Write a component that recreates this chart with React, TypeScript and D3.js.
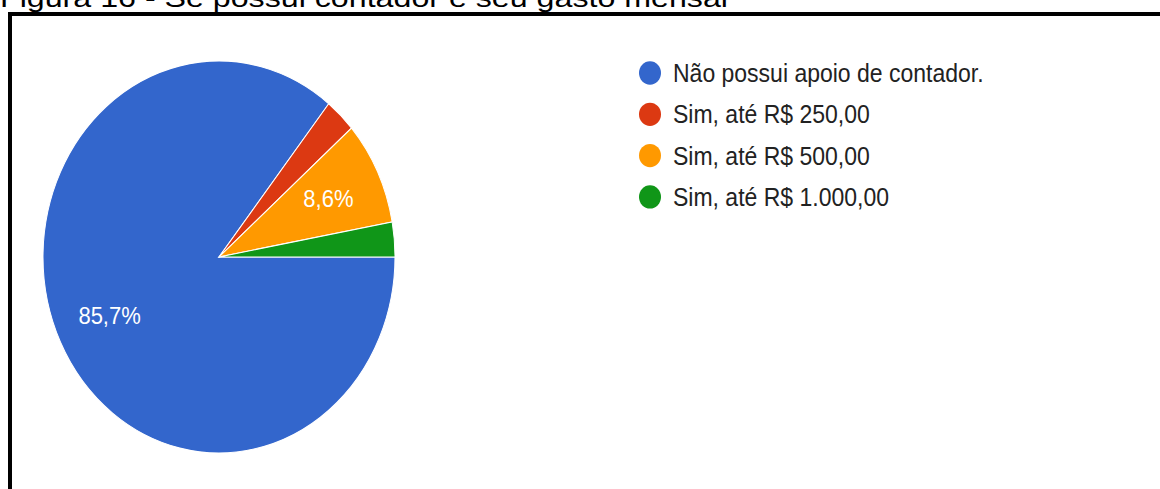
import React from "react";
import * as d3 from "d3";

const categories = [
  "Não possui apoio de contador.",
  "Sim, até R$ 250,00",
  "Sim, até R$ 500,00",
  "Sim, até R$ 1.000,00",
];
const values = [30, 1, 3, 1];
const colors = ["#3366cc", "#dc3912", "#ff9900", "#109618"];
const title = "Figura 16 - Se possui contador e seu gasto mensal";

export default function App() {
  const W = 1160, H = 489;
  const cx = 219, cy = 257, rx = 176, ry = 196;
  const sy = ry / rx;
  const total = d3.sum(values);
  const pie = d3.pie<number>().sort(null).value((d) => d)
    .startAngle(Math.PI / 2).endAngle(Math.PI / 2 + 2 * Math.PI);
  const arcs = pie(values);
  const arc = d3.arc<d3.PieArcDatum<number>>().innerRadius(0).outerRadius(rx);
  const labelArc = d3.arc<d3.PieArcDatum<number>>().innerRadius(2 * 0.69 * rx).outerRadius(0);
  const fmt = (v: number) => (Math.round((v / total) * 1000) / 10).toFixed(1).replace(".", ",") + "%";
  const font = "'Liberation Sans', Arial, sans-serif";

  return (
    <svg width={W} height={H} style={{ position: "absolute", left: 0, top: 0, display: "block" }}>
      <rect x={0} y={0} width={W} height={H} fill="#fff" />
      <text x={0} y={7} fontFamily={font} fontSize={26} fill="#000"
        textLength={728} lengthAdjust="spacingAndGlyphs">{title}</text>
      <path d={`M10,${H} V14 H${W + 5}`} fill="none" stroke="#000" strokeWidth={4} />
      <g transform={`translate(${cx},${cy}) scale(1,${sy})`}>
        {arcs.map((a, i) => (
          <path key={i} d={arc(a) || ""} fill={colors[i]} stroke="#fff" strokeWidth={1} />
        ))}
      </g>
      {arcs.map((a, i) => {
        const frac = values[i] / total;
        if (frac < 0.05) return null;
        const [lx, ly] = labelArc.centroid(a);
        const px = cx + lx, py = cy + ly * sy;
        return (
          <text key={"l" + i} x={px} y={py} textAnchor="middle" dominantBaseline="central"
            fontFamily={font} fontSize={22} fill="#fff"
            transform={`translate(${px},${py}) scale(1,${sy}) translate(${-px},${-py})`}>
            {fmt(values[i])}
          </text>
        );
      })}
      {categories.map((c, i) => {
        const y = 73 + i * 41.3;
        return (
          <g key={"g" + i}>
            <ellipse cx={650} cy={y} rx={11} ry={11 * sy * 0.95} fill={colors[i]} />
            <text x={673} y={y} dominantBaseline="central" fontFamily={font}
              fontSize={23} fill="#222"
              transform={`translate(673,${y}) scale(1,${sy}) translate(-673,${-y})`}>{c}</text>
          </g>
        );
      })}
    </svg>
  );
}
